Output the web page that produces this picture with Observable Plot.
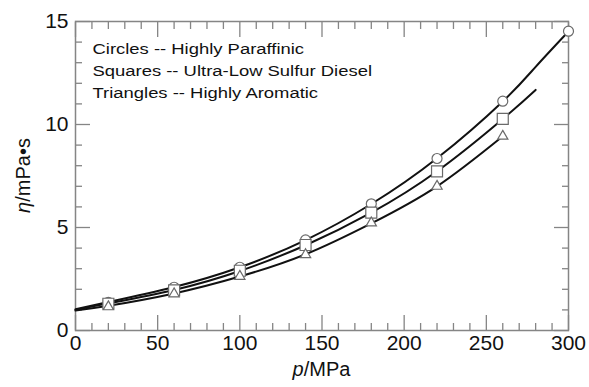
<!DOCTYPE html>
<html>
<head>
<meta charset="utf-8">
<script src="https://cdn.jsdelivr.net/npm/d3@7"></script>
<script src="https://cdn.jsdelivr.net/npm/@observablehq/plot@0.6"></script>
<style>
  html, body { margin: 0; padding: 0; background: #fff; }
</style>
</head>
<body>
<div id="chart"></div>
<script>
// Measured viscosity (mPa·s) at each pressure (MPa)
const pressure = [20, 60, 100, 140, 180, 220, 260, 300];
const circles = [1.37, 2.10, 3.07, 4.40, 6.15, 8.35, 11.13, 14.53];
const squares = [1.30, 1.95, 2.90, 4.15, 5.72, 7.72, 10.27];
const triangles = [1.15, 1.78, 2.63, 3.68, 5.22, 7.00, 9.43];

// Correlation curves for each fuel
const fitPressure = [0, 20, 60, 100, 140, 180, 220, 260, 280, 300];
const fitCircles = [1.03, 1.38, 2.11, 3.07, 4.39, 6.14, 8.36, 11.12, 12.80, 14.52];
const fitSquares = [1.00, 1.32, 1.97, 2.89, 4.14, 5.72, 7.73, 10.27, 11.68];
const fitTriangles = [0.97, 1.20, 1.80, 2.62, 3.70, 5.20, 7.00, 9.43];

const notes = [
  "Circles -- Highly Paraffinic",
  "Squares -- Ultra-Low Sulfur Diesel",
  "Triangles -- Highly Aromatic"
];

// Axis ticks
const xMajor = [0, 50, 100, 150, 200, 250, 300];
const xMinor = d3.range(10, 300, 10).filter(v => v % 50 !== 0);
const yMajor = [0, 5, 10, 15];
const yMinor = d3.range(1, 15, 1).filter(v => v % 5 !== 0);

const pts = (xs, ys) => ys.map((y, i) => ({p: xs[i], eta: y}));

const W = 589, H = 387;
const M = {left: 75, right: 21, top: 21, bottom: 57};

const axisColor = "#858585";
const markColor = "#6a6a6a";
const font = "'Liberation Sans', Arial, sans-serif";
const blank = () => "";

// Inward ticks drawn by the axis marks themselves (labels are drawn separately)
const inwardTicks = (data, len) => [
  Plot.axisX(data, {anchor: "bottom", tickSize: len, dy: -len, tickFormat: blank, label: null, stroke: axisColor, strokeWidth: 1.3}),
  Plot.axisX(data, {anchor: "top", tickSize: len, dy: len, tickFormat: blank, label: null, stroke: axisColor, strokeWidth: 1.3})
];
const inwardTicksY = (data, len) => [
  Plot.axisY(data, {anchor: "left", tickSize: len, dx: len, tickFormat: blank, label: null, stroke: axisColor, strokeWidth: 1.3}),
  Plot.axisY(data, {anchor: "right", tickSize: len, dx: -len, tickFormat: blank, label: null, stroke: axisColor, strokeWidth: 1.3})
];

const chart = Plot.plot({
  width: W,
  height: H,
  marginLeft: M.left,
  marginRight: M.right,
  marginTop: M.top,
  marginBottom: M.bottom,
  style: {fontFamily: font, background: "#fff", color: "#111"},
  x: {domain: [0, 300]},
  y: {domain: [0, 15]},
  marks: [
    ...inwardTicks(xMajor, 15),
    ...inwardTicks(xMinor, 7),
    ...inwardTicksY(yMajor, 15),
    ...inwardTicksY(yMinor, 7),
    Plot.frame({stroke: axisColor, strokeWidth: 1.5}),
    Plot.axisX({ticks: xMajor, tickSize: 0, tickPadding: 5, fontSize: 21, label: null}),
    Plot.axisY({ticks: yMajor, tickSize: 0, tickPadding: 7, fontSize: 21, label: null}),
    Plot.line(pts(fitPressure, fitCircles), {x: "p", y: "eta", curve: "natural", stroke: "#111", strokeWidth: 2}),
    Plot.line(pts(fitPressure, fitSquares), {x: "p", y: "eta", curve: "natural", stroke: "#111", strokeWidth: 2}),
    Plot.line(pts(fitPressure, fitTriangles), {x: "p", y: "eta", curve: "natural", stroke: "#111", strokeWidth: 2}),
    Plot.dot(pts(pressure, circles), {x: "p", y: "eta", symbol: "circle", r: 5, fill: "#fff", stroke: markColor, strokeWidth: 1.2}),
    Plot.dot(pts(pressure, squares), {x: "p", y: "eta", symbol: "square", r: 6.2, fill: "#fff", stroke: markColor, strokeWidth: 1.2}),
    Plot.dot(pts(pressure, triangles), {x: "p", y: "eta", symbol: "triangle", r: 3.8, fill: "#fff", stroke: markColor, strokeWidth: 1.2}),
    Plot.text([notes.join("\n")], {
      frameAnchor: "top-left", dx: 17, dy: 17, lineAnchor: "top",
      textAnchor: "start", fontSize: 15.5, lineHeight: 1.42, fill: "#111"
    })
  ]
});

document.getElementById("chart").append(chart);

const svg = d3.select(chart);
const xs = chart.scale("x"), ys = chart.scale("y");

// Widen the note lettering horizontally
svg.selectAll("text").filter(function() { return this.textContent.startsWith("Circles"); })
  .attr("transform", function() { return (this.getAttribute("transform") || "") + " scale(1.19,1)"; });

// Axis titles with italic quantity symbols
const xMid = (xs.apply(0) + xs.apply(300)) / 2;
const yMid = (ys.apply(0) + ys.apply(15)) / 2;

const xt = svg.append("text")
  .attr("x", xMid).attr("y", 376)
  .attr("text-anchor", "middle")
  .attr("font-size", 20).attr("fill", "#111")
  .attr("font-family", font);
xt.append("tspan").attr("font-style", "italic").text("p");
xt.append("tspan").text("/MPa");

const yt = svg.append("text")
  .attr("transform", `translate(30,${yMid}) rotate(-90)`)
  .attr("text-anchor", "middle")
  .attr("font-size", 20).attr("fill", "#111")
  .attr("font-family", font);
yt.append("tspan").attr("font-style", "italic").text("η");
yt.append("tspan").text("/mPa•s");
</script>
</body>
</html>
